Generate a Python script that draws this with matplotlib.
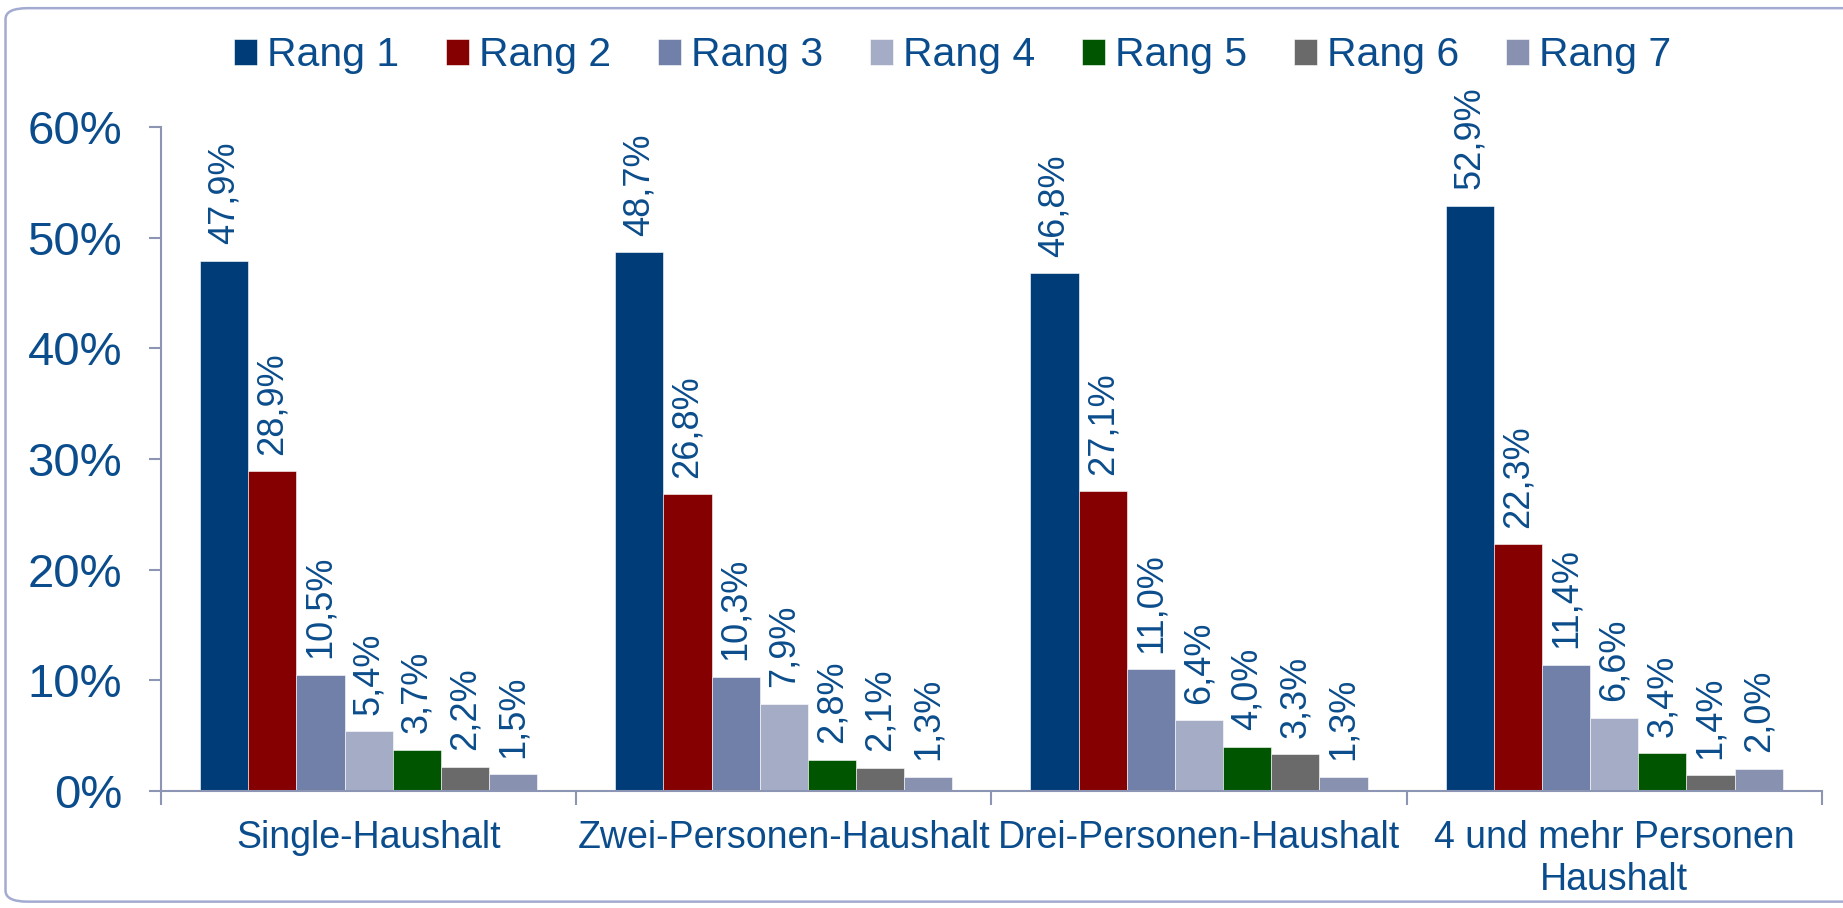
import matplotlib.pyplot as plt
import numpy as np
from matplotlib.patches import FancyBboxPatch
from matplotlib.ticker import FixedLocator, PercentFormatter

plt.rcParams['font.family'] = ['Liberation Sans', 'DejaVu Sans']

# data
categories = ["Single-Haushalt", "Zwei-Personen-Haushalt", "Drei-Personen-Haushalt",
              "4 und mehr Personen\nHaushalt"]
series = ["Rang 1", "Rang 2", "Rang 3", "Rang 4", "Rang 5", "Rang 6", "Rang 7"]
rang1 = [47.9, 48.7, 46.8, 52.9]
rang2 = [28.9, 26.8, 27.1, 22.3]
rang3 = [10.5, 10.3, 11.0, 11.4]
rang4 = [5.4, 7.9, 6.4, 6.6]
rang5 = [3.7, 2.8, 4.0, 3.4]
rang6 = [2.2, 2.1, 3.3, 1.4]
rang7 = [1.5, 1.3, 1.3, 2.0]
values = [rang1, rang2, rang3, rang4, rang5, rang6, rang7]
colors = ["#003c78", "#850000", "#7180a8", "#a5adc6", "#005500", "#6a6a6a", "#8891b0"]

txt = "#0b4d8c"
axc = "#8c96b4"

fig = plt.figure(figsize=(18.43, 9.08), dpi=100)
ax = fig.add_axes([0.0874, 0.1289, 0.9011, 0.7311])

# rounded frame around the whole chart (right side runs off the picture)
frame = FancyBboxPatch((0.003, 0.007), 1.01, 0.984, boxstyle="round,pad=0,rounding_size=0.012",
                       transform=fig.transFigure, fc="none", ec="#a3abd0", lw=1.8, zorder=0)
fig.patches.append(frame)

x = np.arange(len(categories))
w = 0.116
for i, (name, vals, c) in enumerate(zip(series, values, colors)):
    pos = x + (i - 3) * w
    ax.bar(pos, vals, width=w, color=c, edgecolor="white", linewidth=0.4, label=name)
    for p, v in zip(pos, vals):
        ax.text(p, v + 1.5, f"{v:.1f}%".replace(".", ","), rotation=90,
                ha="center", va="bottom", color=txt, fontsize=26)

ax.set_xlim(-0.5, len(categories) - 0.5)
ax.set_ylim(0, 60)
ax.yaxis.set_major_locator(FixedLocator(np.arange(0, 61, 10)))
ax.yaxis.set_major_formatter(PercentFormatter(decimals=0))
ax.set_xticks(x)
ax.set_xticklabels(categories)
ax.set_xticks(np.arange(-0.5, len(categories)), minor=True)
ax.tick_params(axis="x", which="major", length=0, pad=21, labelsize=27, labelcolor=txt)
ax.tick_params(axis="x", which="minor", length=10, width=1.5, color=axc)
ax.tick_params(axis="y", length=9, width=1.5, color=axc, pad=19, labelsize=34, labelcolor=txt)

for s in ["top", "right"]:
    ax.spines[s].set_visible(False)
for s in ["left", "bottom"]:
    ax.spines[s].set_color(axc)
    ax.spines[s].set_linewidth(1.5)

leg = fig.legend(loc="center", bbox_to_anchor=(0.517, 0.939), ncol=7, frameon=False,
                 fontsize=29.5, handlelength=0.55, handleheight=0.6, handletextpad=0.25,
                 columnspacing=1.15)
for t in leg.get_texts():
    t.set_color(txt)

fig.savefig("out.png", dpi=100)
